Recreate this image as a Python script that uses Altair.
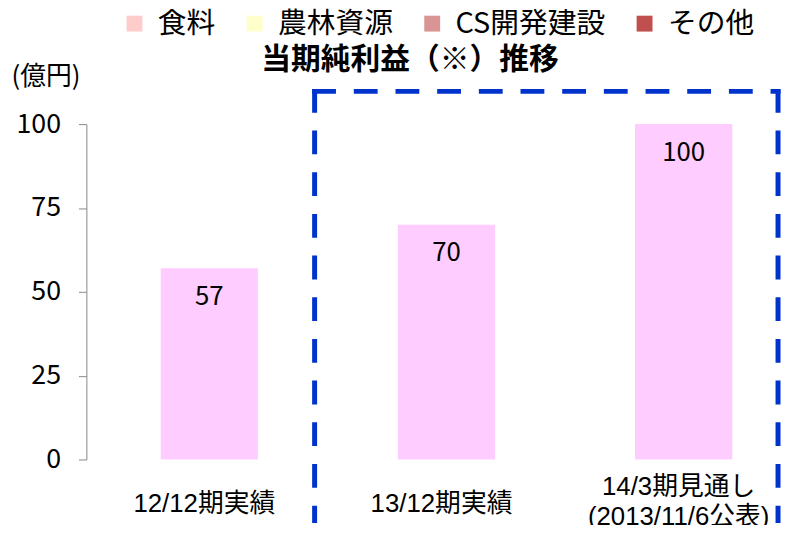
import altair as alt
import pandas as pd

# ---- data ----
categories = ["12/12期実績", "13/12期実績", "14/3期見通し\n(2013/11/6公表)"]
values = [57, 70, 100]
legend_names = ["食料", "農林資源", "CS開発建設", "その他"]
legend_colors = ["#FFCCCC", "#FFFFCC", "#D99594", "#C0504D"]
title_text = "当期純利益（※）推移"
unit_text = "(億円)"
y_ticks = [0, 25, 50, 75, 100]

W, H = 693, 338
PAD = {"left": 79, "top": 115, "right": 7, "bottom": 64}
CJK = "Noto Sans CJK JP"
LAT = "Liberation Sans, Noto Sans CJK JP"

df = pd.DataFrame({"cat": categories, "val": values})

x_enc = alt.X(
    "cat:N", sort=categories,
    scale=alt.Scale(paddingInner=0.59, paddingOuter=0.2448, align=0.64),
    axis=alt.Axis(title=None, labelAngle=0, labelFontSize=26, labelFont=LAT,
                  labelColor="black", labelBaseline="middle", labelOffset=-5,
                  labelPadding={"condition": {"test": "indexof(datum.value, '\\n') >= 0",
                                              "value": 27}, "value": 44},
                  labelLineHeight=31, labelExpr="split(datum.label, '\\n')",
                  ticks=False, tickSize=0, domain=False, labelLimit=0),
)
y_enc = alt.Y(
    "val:Q",
    scale=alt.Scale(domain=[0, 100], nice=False),
    axis=alt.Axis(values=y_ticks, title=unit_text, titleAngle=0, titleX=-76, titleY=-48,
                  titleAlign="left", titleBaseline="middle", titleFontSize=26,
                  titleFontWeight="normal", titleFont=CJK, titleColor="black",
                  labelFontSize=27, labelFont=CJK, labelColor="black", labelPadding=18,
                  tickSize=8, tickColor="#888888", domainColor="#888888", grid=False),
)

bars = alt.Chart(df).mark_bar(color="#FFCCFF").encode(x=x_enc, y=y_enc)

labels = alt.Chart(df).mark_text(dy=29, fontSize=26, baseline="middle", font=CJK,
                                 color="black").encode(
    x=alt.X("cat:N", sort=categories), y="val:Q", text="val:Q")

box_df = pd.DataFrame({"k": [0]})
box_style = dict(color="#0033CC", strokeWidth=5, strokeDash=[24, 18])
box_top = alt.Chart(box_df).mark_rule(**box_style).encode(
    x=alt.value(227.5), x2=alt.value(699.5), y=alt.value(-33))
box_left = alt.Chart(box_df).mark_rule(**box_style).encode(
    x=alt.value(230), y=alt.value(-35.5), y2=alt.value(H + PAD["bottom"]))
box_right = alt.Chart(box_df).mark_rule(**box_style).encode(
    x=alt.value(697), y=alt.value(-35.5), y2=alt.value(H + PAD["bottom"]))

title_df = pd.DataFrame({"t": [title_text]})
title_layer = alt.Chart(title_df).mark_text(fontSize=30, fontWeight="bold", font=CJK,
                                            color="black", baseline="middle",
                                            align="center").encode(
    text="t:N", x=alt.value(326), y=alt.value(-65))

leg_df = pd.DataFrame({"name": legend_names})
legend_layer = alt.Chart(leg_df).mark_square(size=0, opacity=1).encode(
    color=alt.Color("name:N",
                    scale=alt.Scale(domain=legend_names, range=legend_colors),
                    legend=alt.Legend(title=None, orient="none", legendX=34, legendY=-116,
                                      direction="horizontal", columns=4, columnPadding=24,
                                      symbolType="square", symbolSize=256,
                                      symbolStrokeWidth=0, symbolOpacity=1,
                                      labelFontSize=29, labelFont=CJK, labelColor="black",
                                      labelOffset=9, labelLimit=0, padding=0)))

chart = alt.layer(bars, labels, box_top, box_left, box_right, title_layer,
                  legend_layer).properties(
    width=W, height=H, autosize=alt.AutoSizeParams(type="none"), padding=PAD,
).configure_view(stroke=None)

chart.save("out.html", embed_options={"renderer": "svg", "actions": False})
